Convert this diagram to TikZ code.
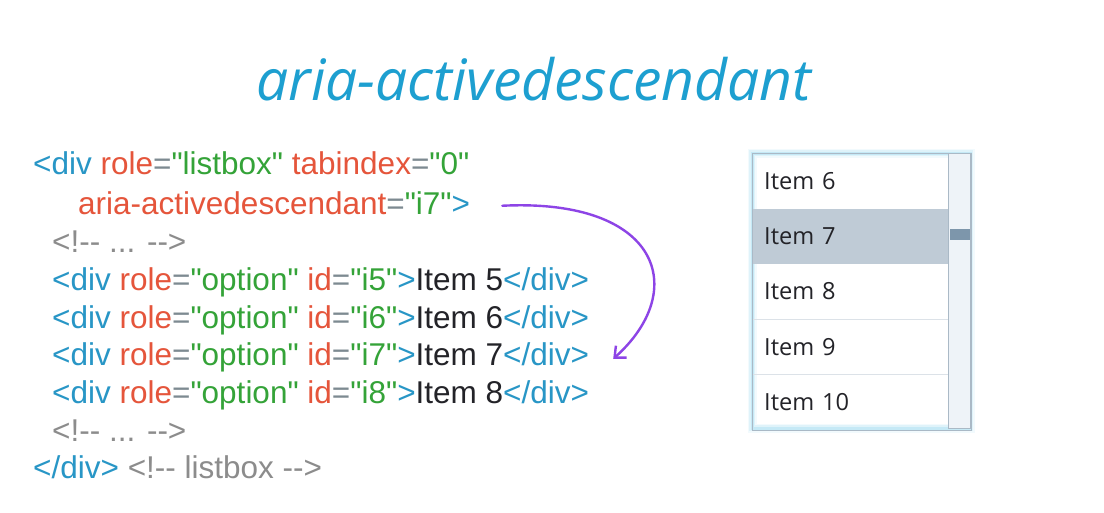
\documentclass[tikz,border=0pt]{standalone}
\usepackage{fontspec}
\setmainfont{Liberation Sans}[Ligatures=TeXOff]
\newfontfamily\itemfont{Open Sans}
\newfontfamily\titlefont{Open Sans}
\usepackage{xcolor}
\usetikzlibrary{
    arrows.meta,
    positioning,
    fit,
    calc
}

\definecolor{tagblue}{RGB}{40,150,198}
\definecolor{attrred}{RGB}{229,85,59}
\definecolor{valgreen}{RGB}{52,163,56}
\definecolor{eqgray}{RGB}{125,138,145}
\definecolor{cmtgray}{RGB}{140,140,140}
\definecolor{txtdark}{RGB}{35,35,40}
\definecolor{titleblue}{RGB}{29,159,208}
\definecolor{arrowpurple}{RGB}{141,68,230}
\definecolor{rowline}{RGB}{220,226,232}
\definecolor{rowsel}{RGB}{191,203,214}
\definecolor{barfill}{RGB}{238,243,248}
\definecolor{barline}{RGB}{170,185,198}
\definecolor{thumb}{RGB}{125,150,171}
\definecolor{glow}{RGB}{150,215,240}

\newcommand{\qt}{\symbol{34}}
\newcommand{\tg}[1]{\textcolor{tagblue}{#1}}
\newcommand{\at}[1]{\textcolor{attrred}{#1}}
\newcommand{\vl}[1]{\textcolor{valgreen}{\qt#1\qt}}
\newcommand{\eq}{\textcolor{eqgray}{=}}
\newcommand{\cm}[1]{\textcolor{cmtgray}{#1}}
\newcommand{\tx}[1]{\textcolor{txtdark}{#1}}
\newcommand{\optline}[2]{\tg{<div} \at{role}\eq\vl{option} \at{id}\eq\vl{#1}\tg{>}\tx{Item #2}\tg{</div>}}

\begin{document}
\begin{tikzpicture}[
            x=1pt, y=-1pt,
            code/.style={anchor=base west, inner sep=0pt, font=\fontsize{31.5}{36}\selectfont},
            row/.style={anchor=north west, inner xsep=12pt, inner ysep=0pt, text width=172pt,
                        minimum height=55pt, align=left, text=txtdark,
                        font=\itemfont\fontsize{23.6}{28}\selectfont},
            sep/.style={draw=rowline, line width=0.8pt},
            frame/.style={draw=barline, line width=1pt, inner sep=0pt},
            arr/.style={-{Straight Barb[length=9pt, width=16pt, line width=2.4pt]},
                        line width=2.4pt, arrowpurple, line cap=round}
        ]
            \useasboundingbox (0,0) rectangle (1104,512);
            \fill[white] (0,0) rectangle (1104,512);

            % title
            \node[font=\titlefont\itshape\fontsize{57}{62}\selectfont, text=titleblue, anchor=base]
                (title) at (534,100) {aria-activedescendant};

            % code
            \node[code] (open)  at (33,174)  {\tg{<div} \at{role}\eq\vl{listbox} \at{tabindex}\eq\vl{0}};
            \node[code] (aria)  at (78,214)  {\at{aria-activedescendant}\eq\vl{i7}\tg{>}};
            \node[code] (cmta)  at (52,252)  {\cm{<!-{}- ... -{}->}};
            \node[code] (opt5)  at (52,290)  {\optline{i5}{5}};
            \node[code] (opt6)  at (52,328)  {\optline{i6}{6}};
            \node[code] (opt7)  at (52,365)  {\optline{i7}{7}};
            \node[code] (opt8)  at (52,403)  {\optline{i8}{8}};
            \node[code] (cmtb)  at (52,441)  {\cm{<!-{}- ... -{}->}};
            \node[code] (close) at (33,478)  {\tg{</div>} \cm{<!-{}- listbox -{}->}};

            \draw[arr] ([xshift=32pt,yshift=-3pt]aria.east)
                .. controls (660,198) and (690,290) .. ([xshift=24pt,yshift=-2pt]opt7.east);

            % listbox
            \foreach \w/\o in {9/0.12, 6/0.2, 3/0.35}
                \draw[glow, line width=\w pt, opacity=\o] (752,153) rectangle (970,428);
            \node[row] (r6) at (752,153) {Item 6};
            \node[row, fill=rowsel, below=0pt of r6] (r7) {Item 7};
            \node[row, below=0pt of r7] (r8) {Item 8};
            \node[row, below=0pt of r8] (r9) {Item 9};
            \node[row, below=0pt of r9] (r10) {Item 10};
            \foreach \r in {r9,r10}
                \draw[sep] (\r.north west) -- (\r.north east);
            \node[fill=barfill, draw=barline, line width=0.8pt, anchor=north west, inner sep=0pt,
                  minimum width=22pt, minimum height=275pt] (bar) at (r6.north east) {};
            \node[fill=thumb, anchor=north west, inner sep=0pt,
                  minimum width=20pt, minimum height=11pt] (knob) at (950,229) {};
            \node[frame, fit=(r6)(r10)(bar)] (listbox) {};
        \end{tikzpicture}
\end{document}
